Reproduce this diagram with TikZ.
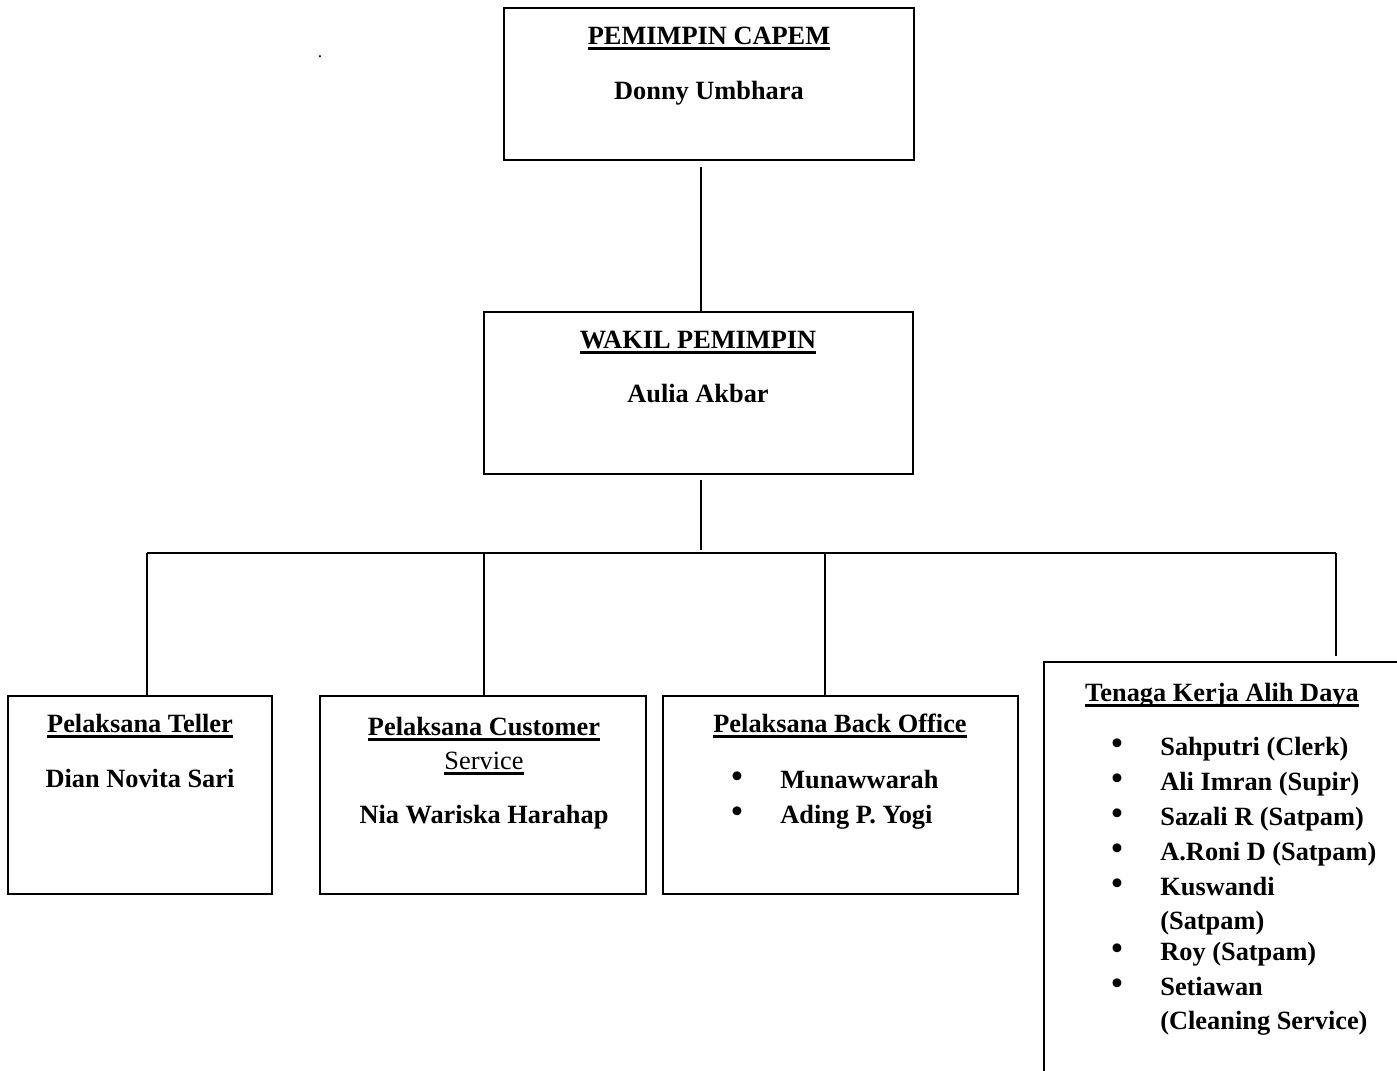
\documentclass[tikz,border=0pt]{standalone}
\usepackage{graphicx}
\usepackage{fontspec}
\setmainfont{Liberation Serif}
\usetikzlibrary{calc}
\usetikzlibrary{fit}

\newcommand\hdline[1]{\setbox0\hbox{#1}\rlap{\rule[-3.3pt]{\wd0}{1.5pt}}\box0}
\newcommand\bigbul{\scalebox{1.4}{\textbullet}}

\tikzset{
  box/.style={draw, line width=1.1pt, inner sep=0pt},
  link/.style={line width=0.8pt},
  txt/.style={font=\fontsize{15}{19}\selectfont\bfseries, inner sep=0pt, text height=10.5pt, text depth=3pt, yshift=-0.05cm},
  txtn/.style={txt, font=\fontsize{15}{19}\selectfont\mdseries},
  bul/.style={font=\fontsize{15}{15}\selectfont, inner sep=0pt}
}

\begin{document}
\begin{tikzpicture}[x=0.02cm, y=-0.02cm]
  % Constants
  \pgfmathsetmacro\busy{553}
  % Boundary
  \useasboundingbox (0,0) rectangle (1397,1071);
  \clip (0,0) rectangle (1397,1071);
  % Boxes
  \node[box, fit={(504,8) (914,160)}] (capem) {};
  \node[box, fit={(484,312) (913,474)}] (wakil) {};
  \node[box, fit={(8,696) (272,894)}] (teller) {};
  \node[box, fit={(320,696) (646,894)}] (cs) {};
  \node[box, fit={(663,696) (1018,894)}] (bo) {};
  \node[box, fit={(1044,662) (1430,1110)}] (tkad) {};
  % Texts
  \node[inner sep=0pt, font=\fontsize{10}{10}\selectfont] (dot) at (320,57) {.};
  \node[txt] (capemH) at (709,35) {\hdline{PEMIMPIN CAPEM}};
  \node[txt] (capemN) at (709,90) {Donny Umbhara};
  \node[txt] (wakilH) at (698,339) {\hdline{WAKIL PEMIMPIN}};
  \node[txt] (wakilN) at (698,393) {Aulia Akbar};
  \node[txt] (tellerH) at (140,723) {\hdline{Pelaksana Teller}};
  \node[txt] (tellerN) at (140,778) {Dian Novita Sari};
  \node[txt] (csH) at (484,726) {\hdline{Pelaksana Customer}};
  \node[txtn] (csS) at (484,760) {\hdline{Service}};
  \node[txt] (csN) at (484,814) {Nia Wariska Harahap};
  \node[txt] (boH) at (840,723) {\hdline{Pelaksana Back Office}};
  \foreach \y/\who [count=\i] in {779/Munawwarah, 814/Ading P. Yogi}{
    \node[bul] (bob\i) at (737,\y+1) {\bigbul};
    \node[txt, anchor=west] (bo\i) at (780,\y) {\who};
  }
  \node[txt] (tkadH) at (1222,692) {\hdline{Tenaga Kerja Alih Daya}};
  \foreach \y/\who [count=\i] in {746/Sahputri (Clerk), 781/Ali Imran (Supir),
      816/Sazali R (Satpam), 851/A.Roni D (Satpam), 886/Kuswandi,
      951/Roy (Satpam), 986/Setiawan}{
    \node[bul] (tkb\i) at (1117,\y+1) {\bigbul};
    \node[txt, anchor=west] (tk\i) at (1160,\y) {\who};
  }
  \node[txt, anchor=west] (tk5b) at (1160,920) {(Satpam)};
  \node[txt, anchor=west] (tk7b) at (1160,1020) {(Cleaning Service)};
  % Connectors
  \coordinate (top) at (701,167);
  \draw[link] (top) -- (top |- wakil.north);
  \coordinate (mid) at (701,480);
  \coordinate (bus) at (701,\busy-3);
  \draw[link] (mid) -- (bus);
  \foreach \n/\x in {teller/147, cs/484, bo/825}{
    \coordinate (d\n) at (\x,\busy);
    \draw[link] (d\n) -- (d\n |- \n.north);
  }
  \coordinate (dtkad) at (1336,\busy);
  \draw[link, shorten >=0.1cm] (dtkad) -- (dtkad |- tkad.north);
  \draw[link] (dteller) -- (dtkad);
\end{tikzpicture}
\end{document}
